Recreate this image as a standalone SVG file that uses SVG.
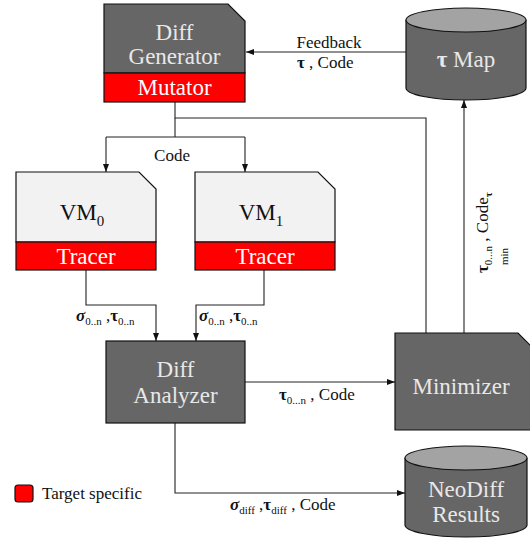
<svg xmlns="http://www.w3.org/2000/svg" width="530" height="539" viewBox="0 0 530 539">
  <defs>
    <marker id="arrow" viewBox="0 0 8 6" refX="8" refY="3" markerWidth="8" markerHeight="6" markerUnits="userSpaceOnUse" orient="auto">
      <path d="M0,0 L8,3 L0,6 z" fill="#111"/>
    </marker>
    <style>
      .dark { fill: #666666; stroke: #111; stroke-width: 1.2; }
      .light { fill: #f2f2f2; stroke: #111; stroke-width: 1.2; }
      .red { fill: #ff0000; stroke: #111; stroke-width: 1.2; }
      .cyltop { fill: #a3a3a3; stroke: #111; stroke-width: 1.2; }
      .big { font-family: "Liberation Serif", serif; font-size: 23px; text-anchor: middle; }
      .onDark { fill: #e8e8e8; }
      .onRed { fill: #ffffff; }
      .onLight { fill: #111; }
      .lbl { font-family: "Liberation Serif", serif; font-size: 17px; fill: #111; }
      .b { font-weight: bold; }
      .sub { font-size: 11px; }
      .edge { fill: none; stroke: #222; stroke-width: 1.1; }
    </style>
  </defs>

  <!-- Connectors -->
  <g id="connectors">
    <!-- feedback from tau map into the generator -->
    <line class="edge" x1="407" y1="52" x2="246" y2="52" marker-end="url(#arrow)"/>
    <!-- generator output: to minimizer and fan-out to both VMs -->
    <polyline class="edge" points="175,102 175,118 426,118 426,333"/>
    <line class="edge" x1="175" y1="118" x2="175" y2="137"/>
    <line class="edge" x1="106" y1="137" x2="245" y2="137"/>
    <line class="edge" x1="106" y1="137" x2="106" y2="172" marker-end="url(#arrow)"/>
    <line class="edge" x1="245" y1="137" x2="245" y2="172" marker-end="url(#arrow)"/>
    <!-- tracer outputs into the analyzer -->
    <polyline class="edge" points="86,270 86,305 156,305 156,341" marker-end="url(#arrow)"/>
    <polyline class="edge" points="264,270 264,305 196,305 196,341" marker-end="url(#arrow)"/>
    <!-- analyzer to minimizer -->
    <line class="edge" x1="245" y1="382" x2="395" y2="382" marker-end="url(#arrow)"/>
    <!-- minimizer up to tau map -->
    <line class="edge" x1="464" y1="333" x2="464" y2="100" marker-end="url(#arrow)"/>
    <!-- analyzer to results -->
    <polyline class="edge" points="175,423 175,493 405,493" marker-end="url(#arrow)"/>

    <!-- edge labels -->
    <text class="lbl" x="329" y="48" text-anchor="middle">Feedback</text>
    <text class="lbl" x="297" y="68"><tspan class="b">τ</tspan> , Code</text>
    <text class="lbl" x="172" y="161" text-anchor="middle">Code</text>
    <text class="lbl" x="76" y="321"><tspan class="b" font-style="italic">σ</tspan><tspan class="sub" dy="4">0..n</tspan><tspan dy="-4"> ,</tspan><tspan class="b">τ</tspan><tspan class="sub" dy="4">0..n</tspan></text>
    <text class="lbl" x="199" y="321"><tspan class="b" font-style="italic">σ</tspan><tspan class="sub" dy="4">0..n</tspan><tspan dy="-4"> ,</tspan><tspan class="b">τ</tspan><tspan class="sub" dy="4">0..n</tspan></text>
    <text class="lbl" x="279" y="400"><tspan class="b">τ</tspan><tspan class="sub" dy="4">0...n</tspan><tspan dy="-4"> , Code</tspan></text>
    <text class="lbl" x="230" y="510"><tspan class="b" font-style="italic">σ</tspan><tspan class="sub" dy="4">diff</tspan><tspan dy="-4"> ,</tspan><tspan class="b">τ</tspan><tspan class="sub" dy="4">diff</tspan><tspan dy="-4"> , Code</tspan></text>
    <g transform="translate(488,273) rotate(-90)">
      <text class="lbl" x="0" y="0"><tspan class="b">τ</tspan><tspan class="sub" dy="4">0...n</tspan><tspan dy="-4"> , Code</tspan><tspan class="sub b" dy="4">τ</tspan></text>
      <text class="lbl sub" x="8" y="20">min</text>
    </g>
  </g>

  <!-- Diff Generator with Mutator -->
  <g id="diff-generator">
    <polygon class="dark" points="104,4 228,4 245,21 245,73 104,73"/>
    <rect class="red" x="104" y="73" width="141" height="29"/>
    <text class="big onDark" x="174.5" y="40">Diff</text>
    <text class="big onDark" x="174.5" y="64">Generator</text>
    <text class="big onRed" x="174.5" y="95">Mutator</text>
  </g>

  <!-- tau Map store -->
  <g id="tau-map">
    <path class="dark" d="M406,20 L406,88 A60,12 0 0 0 526,88 L526,20"/>
    <ellipse class="cyltop" cx="466" cy="20" rx="60" ry="12"/>
    <text class="big onDark" x="466" y="67"><tspan font-weight="bold">τ</tspan> Map</text>
  </g>

  <!-- VM 0 with Tracer -->
  <g id="vm0">
    <polygon class="light" points="16,172 139,172 156,189 156,242 16,242"/>
    <rect class="red" x="16" y="242" width="140" height="28"/>
    <text class="big onLight" x="82" y="220">VM<tspan font-size="15" dy="6">0</tspan></text>
    <text class="big onRed" x="86" y="264">Tracer</text>
  </g>

  <!-- VM 1 with Tracer -->
  <g id="vm1">
    <polygon class="light" points="195,172 318,172 335,189 335,242 195,242"/>
    <rect class="red" x="195" y="242" width="140" height="28"/>
    <text class="big onLight" x="261" y="220">VM<tspan font-size="15" dy="6">1</tspan></text>
    <text class="big onRed" x="265" y="264">Tracer</text>
  </g>

  <!-- Diff Analyzer -->
  <g id="diff-analyzer">
    <rect class="dark" x="106" y="341" width="139" height="82"/>
    <text class="big onDark" x="175.5" y="377">Diff</text>
    <text class="big onDark" x="175.5" y="403">Analyzer</text>
  </g>

  <!-- Minimizer -->
  <g id="minimizer">
    <polygon class="dark" points="395,333 518,333 535,350 535,430 395,430"/>
    <text class="big onDark" x="461" y="394">Minimizer</text>
  </g>

  <!-- NeoDiff Results store -->
  <g id="neodiff-results">
    <path class="dark" d="M405,458 L405,525 A61,12 0 0 0 527,525 L527,458"/>
    <ellipse class="cyltop" cx="466" cy="458" rx="61" ry="12"/>
    <text class="big onDark" x="466" y="497">NeoDiff</text>
    <text class="big onDark" x="466" y="522">Results</text>
  </g>

  <!-- Legend -->
  <g id="legend">
    <rect class="red" x="15" y="485" width="18" height="17" rx="3"/>
    <text class="lbl" x="42" y="499">Target specific</text>
  </g>
</svg>
